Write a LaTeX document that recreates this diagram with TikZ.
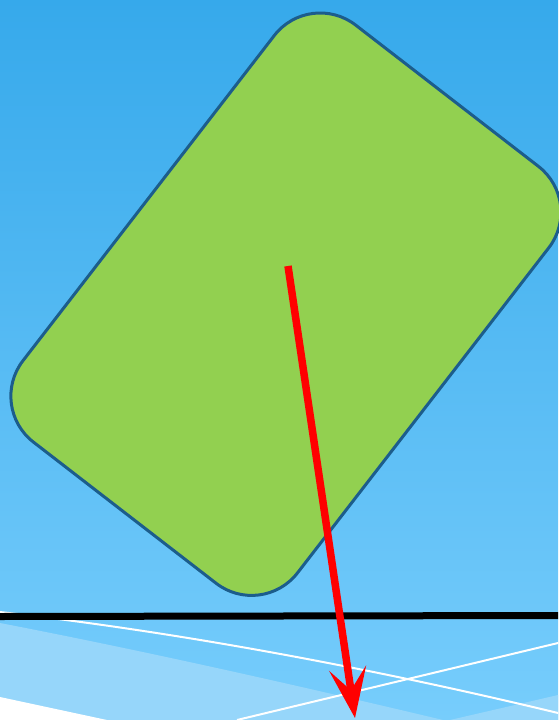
\documentclass[tikz,border=0pt]{standalone}
\usetikzlibrary{arrows.meta}
\definecolor{skytop}{HTML}{36A9EB}
\definecolor{skybottom}{HTML}{77CDFC}
\definecolor{skylight}{HTML}{96D6FA}
\definecolor{blockgreen}{HTML}{92D050}
\definecolor{blockedge}{HTML}{1C5D8C}
\begin{document}
\begin{tikzpicture}[
    x=1pt, y=-1pt,
    blockbox/.style={draw=blockedge, fill=blockgreen, line width=3pt, rounded corners=58pt, minimum width=527pt, minimum height=347pt, inner sep=0pt},
    force/.style={draw=red, line width=7.5pt, -{Stealth[length=50pt, width=37pt, inset=22pt]}},
    ground/.style={draw=black, line width=7pt},
    skyline/.style={draw=white, line width=2pt},
]
\useasboundingbox (0,0) rectangle (558,720);
% background
\shade[top color=skytop, bottom color=skybottom] (0,0) rectangle (558,720);
\fill[skylight] (0,623) .. controls (150,652) and (300,686) .. (443,720) -- (0,720) -- cycle;
\fill[skylight] (558,695) -- (450,720) -- (558,720) -- cycle;
\fill[white] (0,697) -- (107,720) -- (0,720) -- cycle;
\coordinate (w1a) at (0,612);
\coordinate (w1b) at (558,713);
\coordinate (w2a) at (237,720);
\coordinate (w2b) at (558,643);
\draw[skyline] (w1a) .. controls (180,632) and (380,670) .. (w1b);
\draw[skyline] (w2a) -- (w2b);
% block and ground
\node[blockbox, rotate=52.3] (block) at (285.9,304.2) {};
\coordinate (gl) at (0,616.5);
\coordinate (gr) at (558,615.5);
\draw[ground] (gl) -- (gr);
% force
\coordinate (tail) at (288,266);
\coordinate (tip) at (355,718);
\draw[force] (tail) -- (tip);
\end{tikzpicture}
\end{document}
